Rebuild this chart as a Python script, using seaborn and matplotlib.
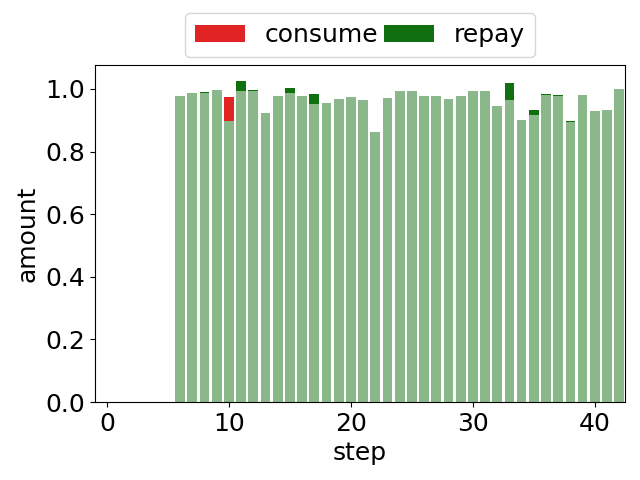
import pandas as pd
import matplotlib
matplotlib.use('Agg')
import matplotlib.pyplot as plt
import seaborn as sns

steps = list(range(6, 43))

# light green bars (base amount per step)
base = [0.978, 0.987, 0.987, 0.997, 0.898, 0.994, 0.994, 0.923, 0.978, 0.987,
        0.978, 0.952, 0.955, 0.968, 0.974, 0.965, 0.863, 0.971, 0.994, 0.994,
        0.978, 0.978, 0.968, 0.978, 0.994, 0.994, 0.946, 0.965, 0.901, 0.917,
        0.981, 0.978, 0.895, 0.981, 0.930, 0.933, 1.000]

# top of the consume / repay segments (0 = none)
consume = [0, 0, 0, 0, 0.974, 0, 0, 0, 0, 0,
           0, 0, 0, 0, 0, 0, 0, 0, 0, 0,
           0, 0, 0, 0, 0, 0, 0, 0, 0, 0,
           0, 0, 0, 0, 0, 0, 0]
repay = [0, 0, 0.990, 0, 0, 1.026, 0.997, 0, 0, 1.003,
         0, 0.984, 0, 0, 0, 0, 0, 0, 0, 0,
         0, 0, 0, 0, 0, 0, 0, 1.019, 0, 0.933,
         0.984, 0.981, 0.898, 0, 0, 0, 0]

df = pd.DataFrame({'step': steps, 'base': base, 'consume': consume, 'repay': repay})

plt.rcParams['font.size'] = 18
fig, ax = plt.subplots(figsize=(6.4, 4.8), dpi=100)

sns.barplot(data=df, x='step', y='consume', native_scale=True, color='#e02424',
            saturation=1, errorbar=None, width=0.8, label='consume', ax=ax)
sns.barplot(data=df, x='step', y='repay', native_scale=True, color='#107010',
            saturation=1, errorbar=None, width=0.8, label='repay', ax=ax)
sns.barplot(data=df, x='step', y='base', native_scale=True, color='#8ab88a',
            saturation=1, errorbar=None, width=0.8, ax=ax)

ax.set_xlim(-1.0, 42.5)
ax.set_ylim(0, 1.077)
ax.set_xticks([0, 10, 20, 30, 40])
ax.set_xlabel('step')
ax.set_ylabel('amount')

ax.legend(loc='lower center', bbox_to_anchor=(0.5, 1.0), ncol=2,
          columnspacing=0.2, borderaxespad=0.3)

plt.subplots_adjust(left=0.148, right=0.977, top=0.865, bottom=0.1625)
plt.savefig('out.png')
